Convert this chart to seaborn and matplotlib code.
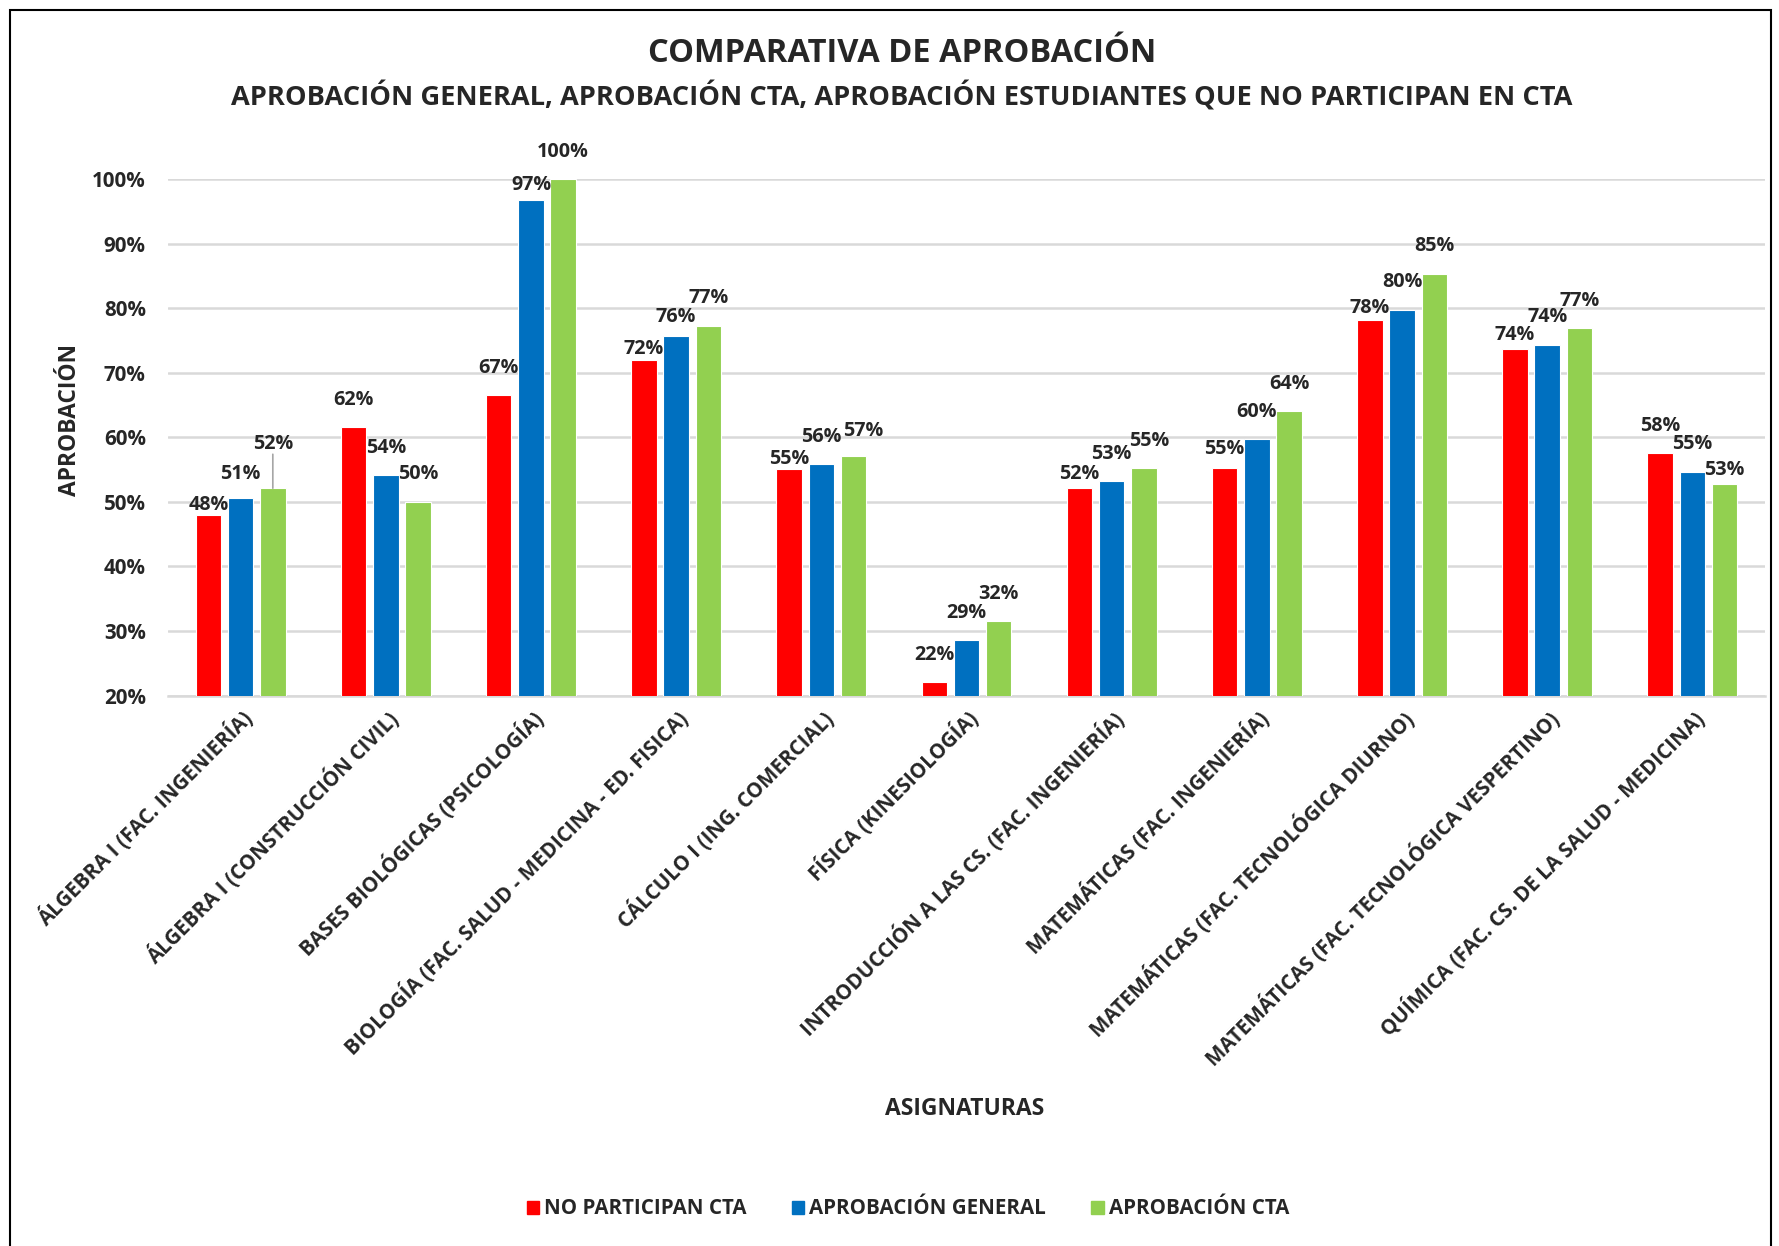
import numpy as np
import pandas as pd
import matplotlib.pyplot as plt
from matplotlib.patches import Rectangle
import seaborn as sns

# subjects on the x axis
asignaturas = [
    "ÁLGEBRA I (FAC. INGENIERÍA)",
    "ÁLGEBRA I (CONSTRUCCIÓN CIVIL)",
    "BASES BIOLÓGICAS (PSICOLOGÍA)",
    "BIOLOGÍA (FAC. SALUD - MEDICINA - ED. FISICA)",
    "CÁLCULO I (ING. COMERCIAL)",
    "FÍSICA (KINESIOLOGÍA)",
    "INTRODUCCIÓN A LAS CS. (FAC. INGENIERÍA)",
    "MATEMÁTICAS (FAC. INGENIERÍA)",
    "MATEMÁTICAS (FAC. TECNOLÓGICA DIURNO)",
    "MATEMÁTICAS (FAC. TECNOLÓGICA VESPERTINO)",
    "QUÍMICA (FAC. CS. DE LA SALUD - MEDICINA)",
]
series = ["NO PARTICIPAN CTA", "APROBACIÓN GENERAL", "APROBACIÓN CTA"]

# approval rates (%)
no_participan = [47.9, 61.6, 66.6, 71.9, 55.1, 22.1, 52.2, 55.3, 78.2, 73.6, 57.6]
general = [50.6, 54.2, 96.8, 75.7, 55.8, 28.6, 53.3, 59.7, 79.7, 74.3, 54.6]
cta = [52.1, 49.9, 100.0, 77.2, 57.1, 31.6, 55.2, 64.0, 85.3, 76.9, 52.8]

colores = ["#FF0000", "#0070C0", "#92D050"]

# how far (px) each data label sits above its bar, per series
lift = [
    [0, 17, 17, 1, 0, 17, 4, 9, 2, 4, 17],
    [14, 17, 5, 9, 17, 17, 17, 17, 18, 18, 18],
    [34, 18, 17, 18, 15, 17, 17, 17, 18, 17, 4],
]
# sideways nudges (px) for crowded labels: (series, group) -> dx
nudge = {(2, 4): 10, (2, 6): 5}

df = pd.DataFrame({
    "asignatura": asignaturas * 3,
    "serie": np.repeat(series, len(asignaturas)),
    "valor": no_participan + general + cta,
})

sns.set_style("white")
plt.rcParams["font.family"] = ["Open Sans", "DejaVu Sans"]
plt.rcParams["font.weight"] = "bold"

W, H = 1779, 1246
fig = plt.figure(figsize=(W / 100, H / 100), dpi=100)
ax = fig.add_axes([168 / W, 1 - 695.5 / H, (1765 - 168) / W, (695.5 - 179) / H])

sns.barplot(data=df, x="asignatura", y="valor", hue="serie", hue_order=series,
            palette=colores, width=0.666, gap=0.21, saturation=1,
            edgecolor="white", linewidth=0.8, legend=False, ax=ax, zorder=3)

ax.set_ylim(20, 100)
ax.set_yticks(range(20, 101, 10))
ax.set_yticklabels([f"{t}%" for t in range(20, 101, 10)], fontsize=14.8,
                   fontweight="bold")
ax.yaxis.grid(True, color="#D9D9D9", linewidth=1.8, zorder=0)
ax.set_axisbelow(True)
for s in ["top", "right", "left"]:
    ax.spines[s].set_visible(False)
ax.spines["bottom"].set_color("#D9D9D9")
ax.spines["bottom"].set_linewidth(1.8)
ax.tick_params(axis="both", length=0)
ax.tick_params(axis="y", pad=16)
ax.tick_params(axis="x", pad=8)
ax.set_xticks(range(len(asignaturas)))
ax.set_xticklabels(asignaturas, rotation=45, ha="right", rotation_mode="anchor",
                   fontsize=14.8, fontweight="bold")

ax.set_xlabel("ASIGNATURAS", fontsize=16.5, fontweight="bold", labelpad=0)
ax.xaxis.set_label_coords((965 - 168) / (1765 - 168), -(1097 - 695.5) / (695.5 - 179))
ax.set_ylabel("APROBACIÓN", fontsize=16.4, fontweight="bold")
ax.yaxis.set_label_coords(-(168 - 82) / (1765 - 168), (695.5 - 420) / (695.5 - 179))

# data labels
for k, cont in enumerate(ax.containers):
    for i, bar in enumerate(cont):
        x = bar.get_x() + bar.get_width() / 2
        y = bar.get_y() + bar.get_height()
        dx = nudge.get((k, i), 0) * 0.72
        dy = lift[k][i] * 0.72
        ax.annotate(f"{y:.0f}%", (x, y), xytext=(dx, dy), textcoords="offset points",
                    ha="center", va="bottom", fontsize=14.2, fontweight="bold",
                    annotation_clip=False, zorder=5)
        if lift[k][i] > 30:
            ax.annotate("", (x, y), xytext=(0, dy), textcoords="offset points",
                        arrowprops=dict(arrowstyle="-", color="#A6A6A6", lw=1.2,
                                        shrinkA=0, shrinkB=0))

fig.text(902 / W, 1 - 54 / H, "COMPARATIVA DE APROBACIÓN", ha="center", va="center",
         fontsize=23.5, fontweight="bold")
fig.text(902 / W, 1 - 97 / H,
         "APROBACIÓN GENERAL, APROBACIÓN CTA, APROBACIÓN ESTUDIANTES QUE NO PARTICIPAN EN CTA",
         ha="center", va="center", fontsize=19.6, fontweight="bold")

handles = [Rectangle((0, 0), 1, 1, color=c) for c in colores]
fig.legend(handles, series, loc="center", bbox_to_anchor=(908 / W, 1 - 1209 / H),
           ncol=3, frameon=False, handlelength=0.6, handleheight=0.6,
           handletextpad=0.25, columnspacing=2.2, prop={"weight": "bold", "size": 14.8})

fig.patches.append(Rectangle((10 / W, -0.1), (1771 - 10) / W, 1.1 - 10 / H,
                             transform=fig.transFigure, fill=False,
                             edgecolor="black", linewidth=1.5))

fig.savefig("out.png", dpi=100)
